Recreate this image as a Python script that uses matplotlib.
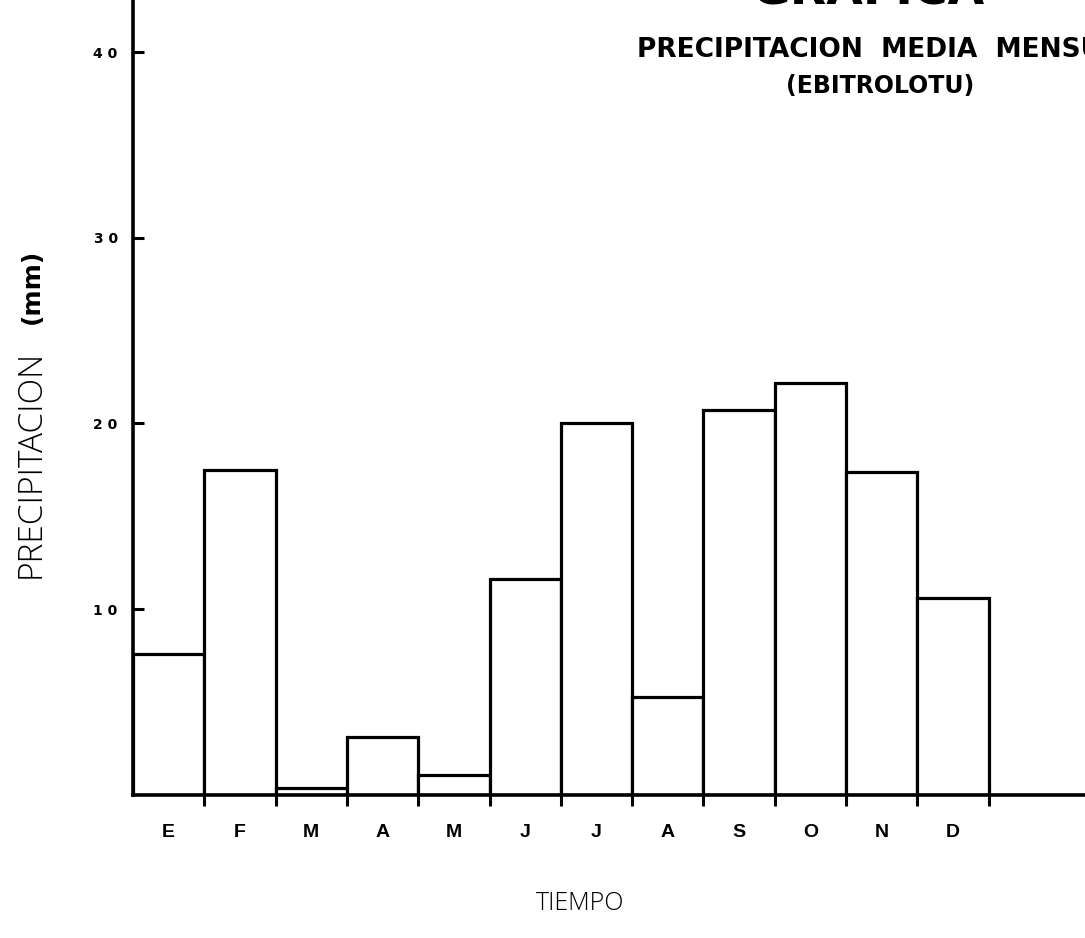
import matplotlib
matplotlib.use("Agg")
import matplotlib.pyplot as plt
import numpy as np

# ----------------------------------------------------------
# Data
# ----------------------------------------------------------

months = ["E", "F", "M", "A", "M", "J", "J", "A", "S", "O", "N", "D"]
precip_mm = [7.6, 17.5, 0.4, 3.1, 1.1, 11.6, 20.0, 5.3, 20.7, 22.2, 17.4, 10.6]
y_ticks = [10, 20, 30, 40]
y_tick_labels = ["1 0", "2 0", "3 0", "4 0"]

# ----------------------------------------------------------
# Figure
# ----------------------------------------------------------

fig = plt.figure(figsize=(10.85, 9.38), dpi=100)
ax = fig.add_axes([0.1226, 0.1525, 0.8774, 0.8475])

x = np.arange(len(months))
ax.bar(x, precip_mm, width=1.0, facecolor="white",
       edgecolor="black", linewidth=2.3, zorder=2)

ax.set_xlim(-0.5, 12.85)
ax.set_ylim(0, 42.8)

for side in ["top", "right"]:
    ax.spines[side].set_visible(False)
for side in ["left", "bottom"]:
    ax.spines[side].set_linewidth(2.6)

# month edges: ticks only, month letters centred in bars
ax.set_xticks(np.arange(len(months)) + 0.5)
ax.set_xticklabels([])
ax.tick_params(axis="x", which="major", direction="inout",
               length=16, width=2.2, color="black")
ax.set_xticks(x, minor=True)
ax.set_xticklabels(months, minor=True, fontsize=14,
                   fontweight="bold", family="Liberation Sans")
ax.tick_params(axis="x", which="minor", length=0, pad=21)

ax.set_yticks(y_ticks)
ax.set_yticklabels(y_tick_labels, fontsize=10, fontweight="bold",
                   family="DejaVu Sans")
ax.tick_params(axis="y", direction="in", length=8, width=2.2, pad=11)

# axis titles
fig.text(0.028, 0.505, "PRECIPITACION", rotation=90, ha="center",
         va="center", fontsize=24, family="Open Sans", fontweight="light")
fig.text(0.029, 0.695, "(mm)", rotation=90, ha="center",
         va="center", fontsize=18, family="DejaVu Sans", fontweight="bold")
fig.text(0.535, 0.037, "TIEMPO", ha="center", va="center",
         fontsize=18, family="Open Sans", fontweight="light")

# heading (cut off by the edge of the scan)
fig.text(0.80, 0.9947, "GRAFICA", ha="center", va="baseline",
         fontsize=34, fontweight="bold", family="DejaVu Sans")
fig.text(0.587, 0.947, "PRECIPITACION  MEDIA  MENSUAL", ha="left",
         va="center", fontsize=19, fontweight="bold",
         family="DejaVu Sans")
fig.text(0.811, 0.908, "(EBITROLOTU)", ha="center", va="center",
         fontsize=17, fontweight="bold", family="DejaVu Sans")

fig.savefig("out.png", dpi=100, facecolor="white")
